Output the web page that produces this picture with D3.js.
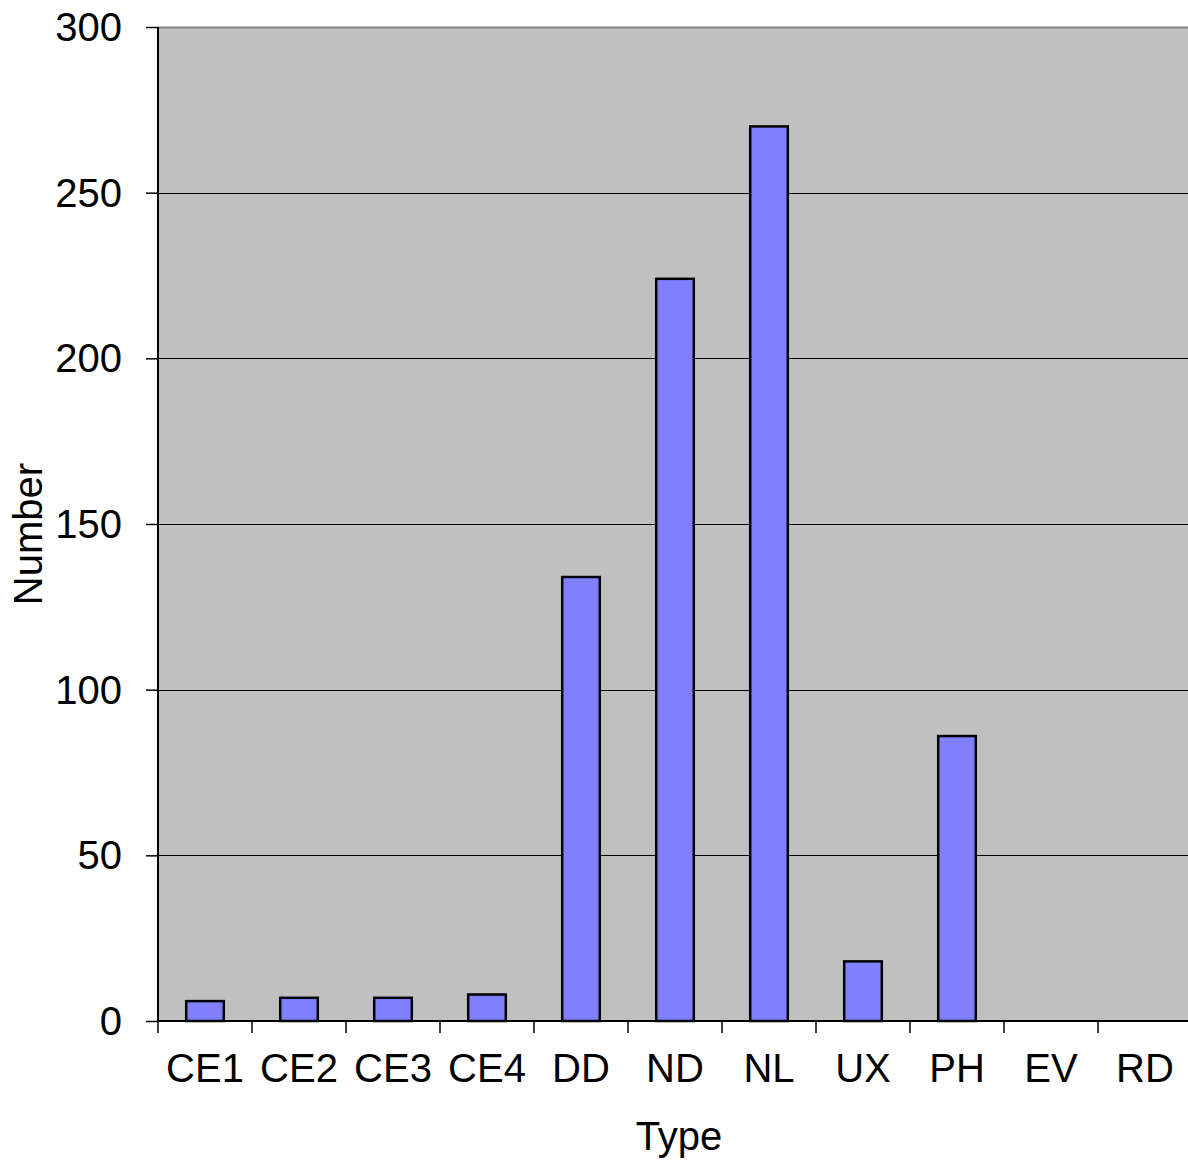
<!DOCTYPE html>
<html><head><meta charset="utf-8">
<script src="https://cdn.jsdelivr.net/npm/d3@7"></script>
<style>body{margin:0;background:#fff}svg{display:block}</style>
</head><body>
<script>
const categories = ["CE1","CE2","CE3","CE4","DD","ND","NL","UX","PH","EV","RD"];
const values = [6,7,7,8,134,224,270,18,86,0,0];
const yTicks = [0,50,100,150,200,250,300];

const W = 1188, H = 1165;
const m = {left:158, top:27, right:1192, bottom:1021};
const svg = d3.select("body").append("svg").attr("width",W).attr("height",H);
const x = d3.scaleBand().domain(categories).range([m.left,m.right]);
const y = d3.scaleLinear().domain([0,300]).range([m.bottom,m.top]);
const font = "Liberation Sans, Arial, sans-serif";
const fs = 40;

svg.append("rect").attr("x",m.left).attr("y",m.top).attr("width",m.right-m.left).attr("height",m.bottom-m.top).attr("fill","#c0c0c0");
svg.append("line").attr("x1",m.left).attr("x2",m.right).attr("y1",m.top+0.5).attr("y2",m.top+0.5).attr("stroke","#808080").attr("stroke-width",2);

svg.append("g").selectAll("line").data(yTicks.filter(d=>d>0 && d<300)).join("line")
  .attr("x1",m.left).attr("x2",m.right).attr("y1",d=>Math.round(y(d))+0.5).attr("y2",d=>Math.round(y(d))+0.5)
  .attr("stroke","#000").attr("stroke-width",1);

const bw = x.bandwidth()*0.4;
svg.append("g").selectAll("rect").data(categories).join("rect")
  .attr("x",(d)=>x(d)+x.bandwidth()/2-bw/2)
  .attr("y",(d,i)=>y(values[i]))
  .attr("width",bw)
  .attr("height",(d,i)=>y(0)-y(values[i]))
  .attr("fill","#8080ff").attr("stroke","#000").attr("stroke-width",2.5)
  .attr("display",(d,i)=>values[i]>0?null:"none");

// y axis
const ya = svg.append("g").attr("transform",`translate(${m.left},0)`)
  .call(d3.axisLeft(y).tickValues(yTicks).tickSize(12).tickPadding(24).tickFormat(d3.format("d")));
ya.select(".domain").attr("stroke-width",2).attr("d",`M0,${m.top}V${m.bottom}`);
ya.selectAll(".tick line").attr("stroke-width",1.5);
ya.selectAll("text").attr("font-family",font).attr("font-size",fs).attr("fill","#000").attr("dy","0.34em");

// x axis
const xa = svg.append("g").attr("transform",`translate(0,${m.bottom})`)
  .call(d3.axisBottom(x).tickSize(0).tickPadding(33));
xa.select(".domain").attr("stroke-width",2).attr("d",`M${m.left},0H${m.right}`);
xa.selectAll(".tick line").remove();
xa.selectAll("text").attr("font-family",font).attr("font-size",fs).attr("fill","#000");
svg.append("g").selectAll("line").data(categories).join("line")
  .attr("x1",d=>x(d)).attr("x2",d=>x(d)).attr("y1",m.bottom).attr("y2",m.bottom+12)
  .attr("stroke","#000").attr("stroke-width",1.5);

svg.append("text").attr("x",679).attr("y",1150).attr("text-anchor","middle")
  .attr("font-family",font).attr("font-size",fs).text("Type");
svg.append("text").attr("transform","translate(42,534) rotate(-90)").attr("text-anchor","middle")
  .attr("font-family",font).attr("font-size",fs).text("Number");
</script>
</body></html>
